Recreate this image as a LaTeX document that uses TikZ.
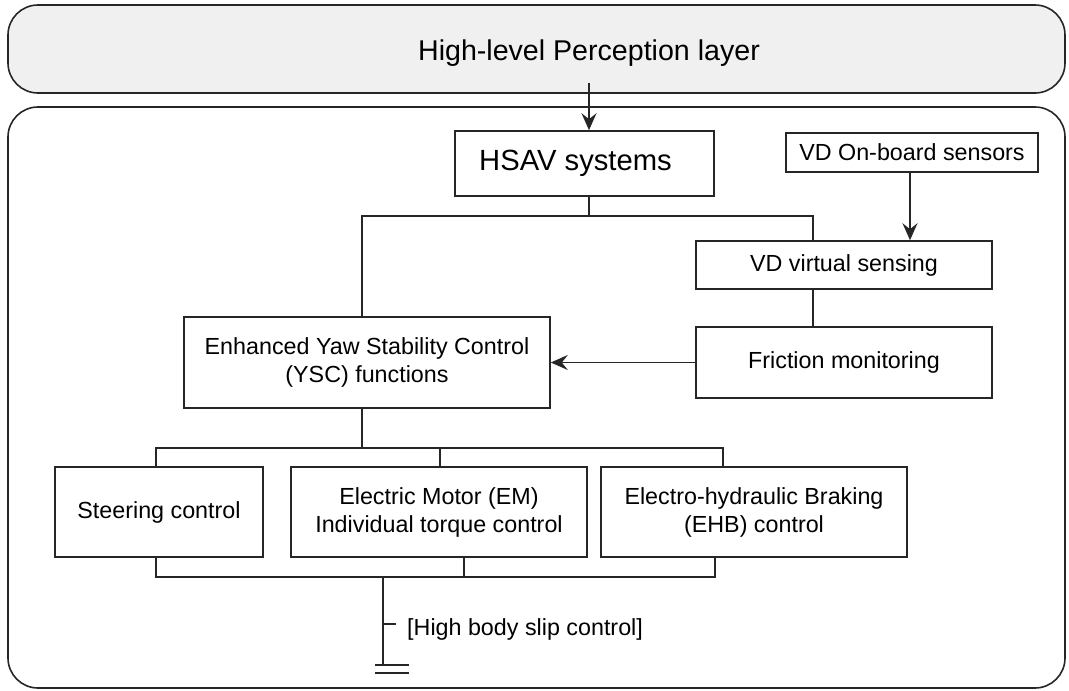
\documentclass[tikz,border=0pt]{standalone}
\usepackage{fontspec}
\setmainfont{Liberation Sans}
\usetikzlibrary{arrows.meta,calc}
\definecolor{layergray}{RGB}{240,240,240}
\tikzset{
  wire/.style={line width=1.6pt, draw=black!85},
  arr/.style={wire, -{Stealth[length=17pt,width=15pt,inset=6pt]}},
  blk/.style={draw=black!85, line width=1.6pt, fill=white, inner sep=0pt,
    align=center, font=\fontsize{23.3pt}{28pt}\selectfont},
  layer/.style={draw=black!85, line width=1.6pt, rounded corners=30pt, inner sep=0pt},
  lbl/.style={inner sep=0pt, font=\fontsize{23.3pt}{28pt}\selectfont}
}
\begin{document}
\begin{tikzpicture}[x=1pt,y=-1pt]
\useasboundingbox (0,0) rectangle (1069,691);

% layers
\node[layer, fill=layergray, minimum width=1057pt, minimum height=88pt] (perc) at (536.5,49) {};
\node[anchor=base, inner sep=0pt, font=\fontsize{28.6pt}{34pt}\selectfont] (title) at (589,60) {High-level Perception layer};
\node[layer, fill=white, minimum width=1057pt, minimum height=581pt] (core) at (536.5,397.5) {};

% blocks
\node[blk, minimum width=259pt, minimum height=65pt, font=\fontsize{29.2pt}{34pt}\selectfont] (hsav) at (584.5,163.5) {HSAV systems\hspace*{18pt}};
\node[blk, minimum width=252pt, minimum height=39pt] (onb) at (912,152.5) {VD On-board sensors};
\node[blk, minimum width=296pt, minimum height=48pt] (vdv) at (844,265) {VD virtual sensing};
\node[blk, minimum width=296pt, minimum height=71pt] (fric) at (844,362.5) {Friction monitoring};
\node[blk, minimum width=366pt, minimum height=91pt] (ysc) at (367,362.5) {Enhanced Yaw Stability Control\\(YSC) functions};
\node[blk, minimum width=208pt, minimum height=90pt] (steer) at (159,512) {Steering control};
\node[blk, minimum width=296pt, minimum height=90pt] (em) at (439,512) {Electric Motor (EM)\\Individual torque control};
\node[blk, minimum width=306pt, minimum height=90pt] (ehb) at (754,512) {Electro-hydraulic Braking\\(EHB) control};

% branch points
\coordinate (src) at (589,83);
\coordinate (xh) at (589,0);
\coordinate (xy) at (362,0);
\coordinate (xv) at (813,0);
\coordinate (xo) at (910,0);
\coordinate (xs) at (156,0);
\coordinate (xe) at (440,0);
\coordinate (xb) at (723,0);
\coordinate (xe2) at (464,0);
\coordinate (xb2) at (715,0);
\coordinate (bus1) at (589,216);
\coordinate (bus2) at (362,448);
\coordinate (bus3) at (383,577);

% perception to HSAV
\draw[arr] (src) -- (hsav.north -| src);

% HSAV fan-out
\draw[wire] (hsav.south -| xh) -- (bus1);
\draw[wire] (bus1) -| (ysc.north -| xy);
\draw[wire] (bus1) -| (vdv.north -| xv);

% sensing chain
\draw[arr] (onb.south -| xo) -- (vdv.north -| xo);
\draw[wire] (vdv.south -| xv) -- (fric.north -| xv);
\draw[arr] (fric.west) -- (ysc.east);

% YSC fan-out to actuators
\draw[wire] (ysc.south -| xy) -- (bus2);
\draw[wire] (bus2) -| (steer.north -| xs);
\draw[wire] (bus2) -| (ehb.north -| xb);
\draw[wire] (em.north -| xe) -- (xe |- bus2);

% actuators merge
\draw[wire] (steer.south -| xs) |- (bus3);
\draw[wire] (ehb.south -| xb2) |- (bus3);
\draw[wire] (em.south -| xe2) -- (xe2 |- bus3);

% high body slip control branch
\coordinate (tick) at (383,624);
\coordinate (stemend) at (383,665);
\draw[wire] (bus3) -- (stemend);
\draw[wire] (tick) -- ++(13,0);
\node[lbl, anchor=base west] (slip) at (407,635) {[High body slip control]};
\draw[wire] ([xshift=-8pt,yshift=-8pt]stemend) -- ([xshift=26pt,yshift=-8pt]stemend);
\draw[wire] ([xshift=-8pt]stemend) -- ([xshift=26pt]stemend);
\end{tikzpicture}
\end{document}
